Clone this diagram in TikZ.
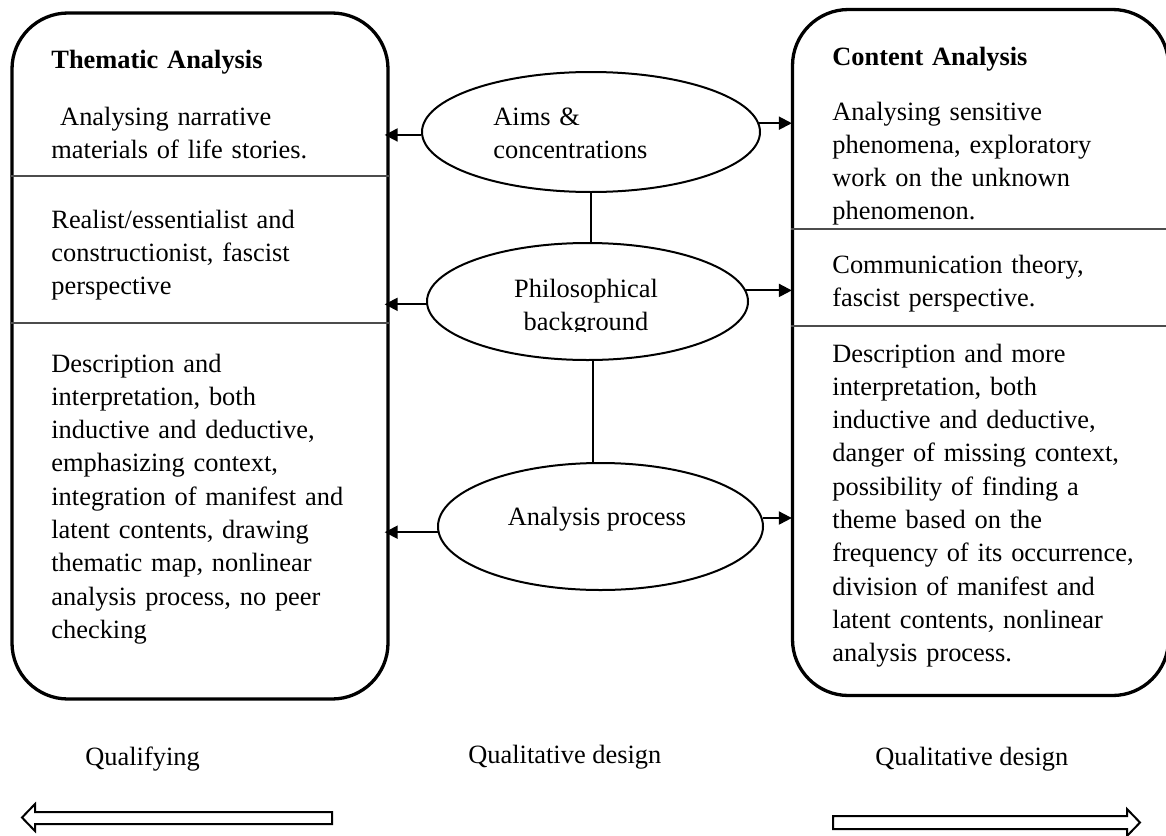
\documentclass[tikz,border=0pt]{standalone}
\usepackage{fontspec}
\setmainfont{Liberation Serif}
\usetikzlibrary{shapes.geometric,arrows.meta,calc}

\tikzset{
  panel/.style={draw, line width=1.65pt, rounded corners=28pt,
    minimum width=188pt, minimum height=343pt, inner sep=0pt},
  rule/.style={draw=black!70, line width=0.7pt},
  topic/.style={draw, ellipse, line width=1pt, inner sep=0pt},
  body/.style={anchor=base west, inner sep=0pt, text width=175pt, align=left,
    font=\fontsize{13.2pt}{16.65pt}\selectfont},
  heading/.style={body, font=\fontsize{13.2pt}{16.65pt}\selectfont\bfseries},
  capt/.style={anchor=base west, inner sep=0pt,
    font=\fontsize{13.2pt}{16.65pt}\selectfont},
  link/.style={line width=1pt},
  pointer/.style={line width=1pt, -{Triangle[length=6.5pt,width=6.5pt]}},
  blockarrow/.style={draw, line width=1pt, fill=white, line join=miter},
}

\begin{document}
\begin{tikzpicture}[x=0.5pt, y=-0.5pt]
\useasboundingbox (0,0) rectangle (1166,835);
\fill[white] (0,0) rectangle (1166,835);

% the two summary panels
\node[panel] (lbox) at (200,356) {};
\node[panel] (rbox) at (980.5,352.5) {};

% section rules inside the panels
\draw[rule] (lbox.west |- 0,176) -- (lbox.east |- 0,176);
\draw[rule] (lbox.west |- 0,323) -- (lbox.east |- 0,323);
\draw[rule] (rbox.west |- 0,229) -- (rbox.east |- 0,229);
\draw[rule] (rbox.west |- 0,326) -- (rbox.east |- 0,326);

% comparison criteria
\node[topic, minimum width=169pt, minimum height=60pt] (aims) at (591,132) {};
\node[topic, minimum width=160.5pt, minimum height=58.5pt] (phil) at (587.5,301.5) {};
\node[topic, minimum width=162.5pt, minimum height=63.5pt] (ana) at (600.5,526.5) {};

\node[body] (aimstext) at (493,125) {Aims \&\\concentrations};
\begin{scope}
  \clip (430,250) rectangle (745,331);
  \node[body, text width=100pt, align=center, anchor=base] (philtext) at (586,297)
    {Philosophical\\background};
\end{scope}
\node[capt, anchor=base] (anatext) at (597,525) {Analysis process};

% links between the criteria
\draw[link] (aims.south) -- (aims.south |- phil.north);
\coordinate (pa) at ($(phil.south)+(5.5,0)$);
\draw[link] (pa) -- (pa |- ana.north);

% pointers to both panels
\draw[pointer, shorten >=-2.5pt] (aims.181) -- (aims.181 -| lbox.east);
\draw[pointer, shorten >=-0.5pt] (aims.3) -- (aims.3 -| rbox.west);
\draw[pointer, shorten >=-2.5pt] (phil.181) -- (phil.181 -| lbox.east);
\draw[pointer, shorten >=-0.5pt] (phil.4) -- (phil.4 -| rbox.west);
\draw[pointer, shorten >=-2.5pt] (ana.182) -- (ana.182 -| lbox.east);
\draw[pointer, shorten >=-0.5pt] (ana.3) -- (ana.3 -| rbox.west);

% left panel text
\node[heading] (lhead) at (51,68) {Thematic Analysis};
\node[body] (l1) at (51,125) {\mbox{}\ Analysing narrative\\materials of life stories.};
\node[body] (l2) at (51,228) {Realist/essentialist and\\constructionist, fascist\\perspective};
\node[body] (l3) at (51,372) {Description and\\interpretation, both\\inductive and deductive,\\emphasizing context,\\integration of manifest and\\latent contents, drawing\\thematic map, nonlinear\\analysis process, no peer\\checking};

% right panel text
\node[heading] (rhead) at (832,65) {Content Analysis};
\node[body] (r1) at (832,120) {Analysing sensitive\\phenomena, exploratory\\work on the unknown\\phenomenon.};
\node[body] (r2) at (832,273) {Communication theory,\\fascist perspective.};
\node[body] (r3) at (832,362) {Description and more\\interpretation, both\\inductive and deductive,\\danger of missing context,\\possibility of finding a\\theme based on the\\frequency of its occurrence,\\division of manifest and\\latent contents, nonlinear\\analysis process.};

% captions and direction arrows
\node[capt] (q1) at (85,765) {Qualifying};
\node[capt] (q2) at (468,763) {Qualitative design};
\node[capt] (q3) at (875,765) {Qualitative design};

\draw[blockarrow] (22,817.5) -- (35,804) -- (35,812) -- (332,812) -- (332,824)
  -- (35,824) -- (35,831) -- cycle;
\draw[blockarrow] (1140,822.5) -- (1127,809) -- (1127,816) -- (833,816) -- (833,829)
  -- (1127,829) -- (1127,836) -- cycle;
\end{tikzpicture}
\end{document}
